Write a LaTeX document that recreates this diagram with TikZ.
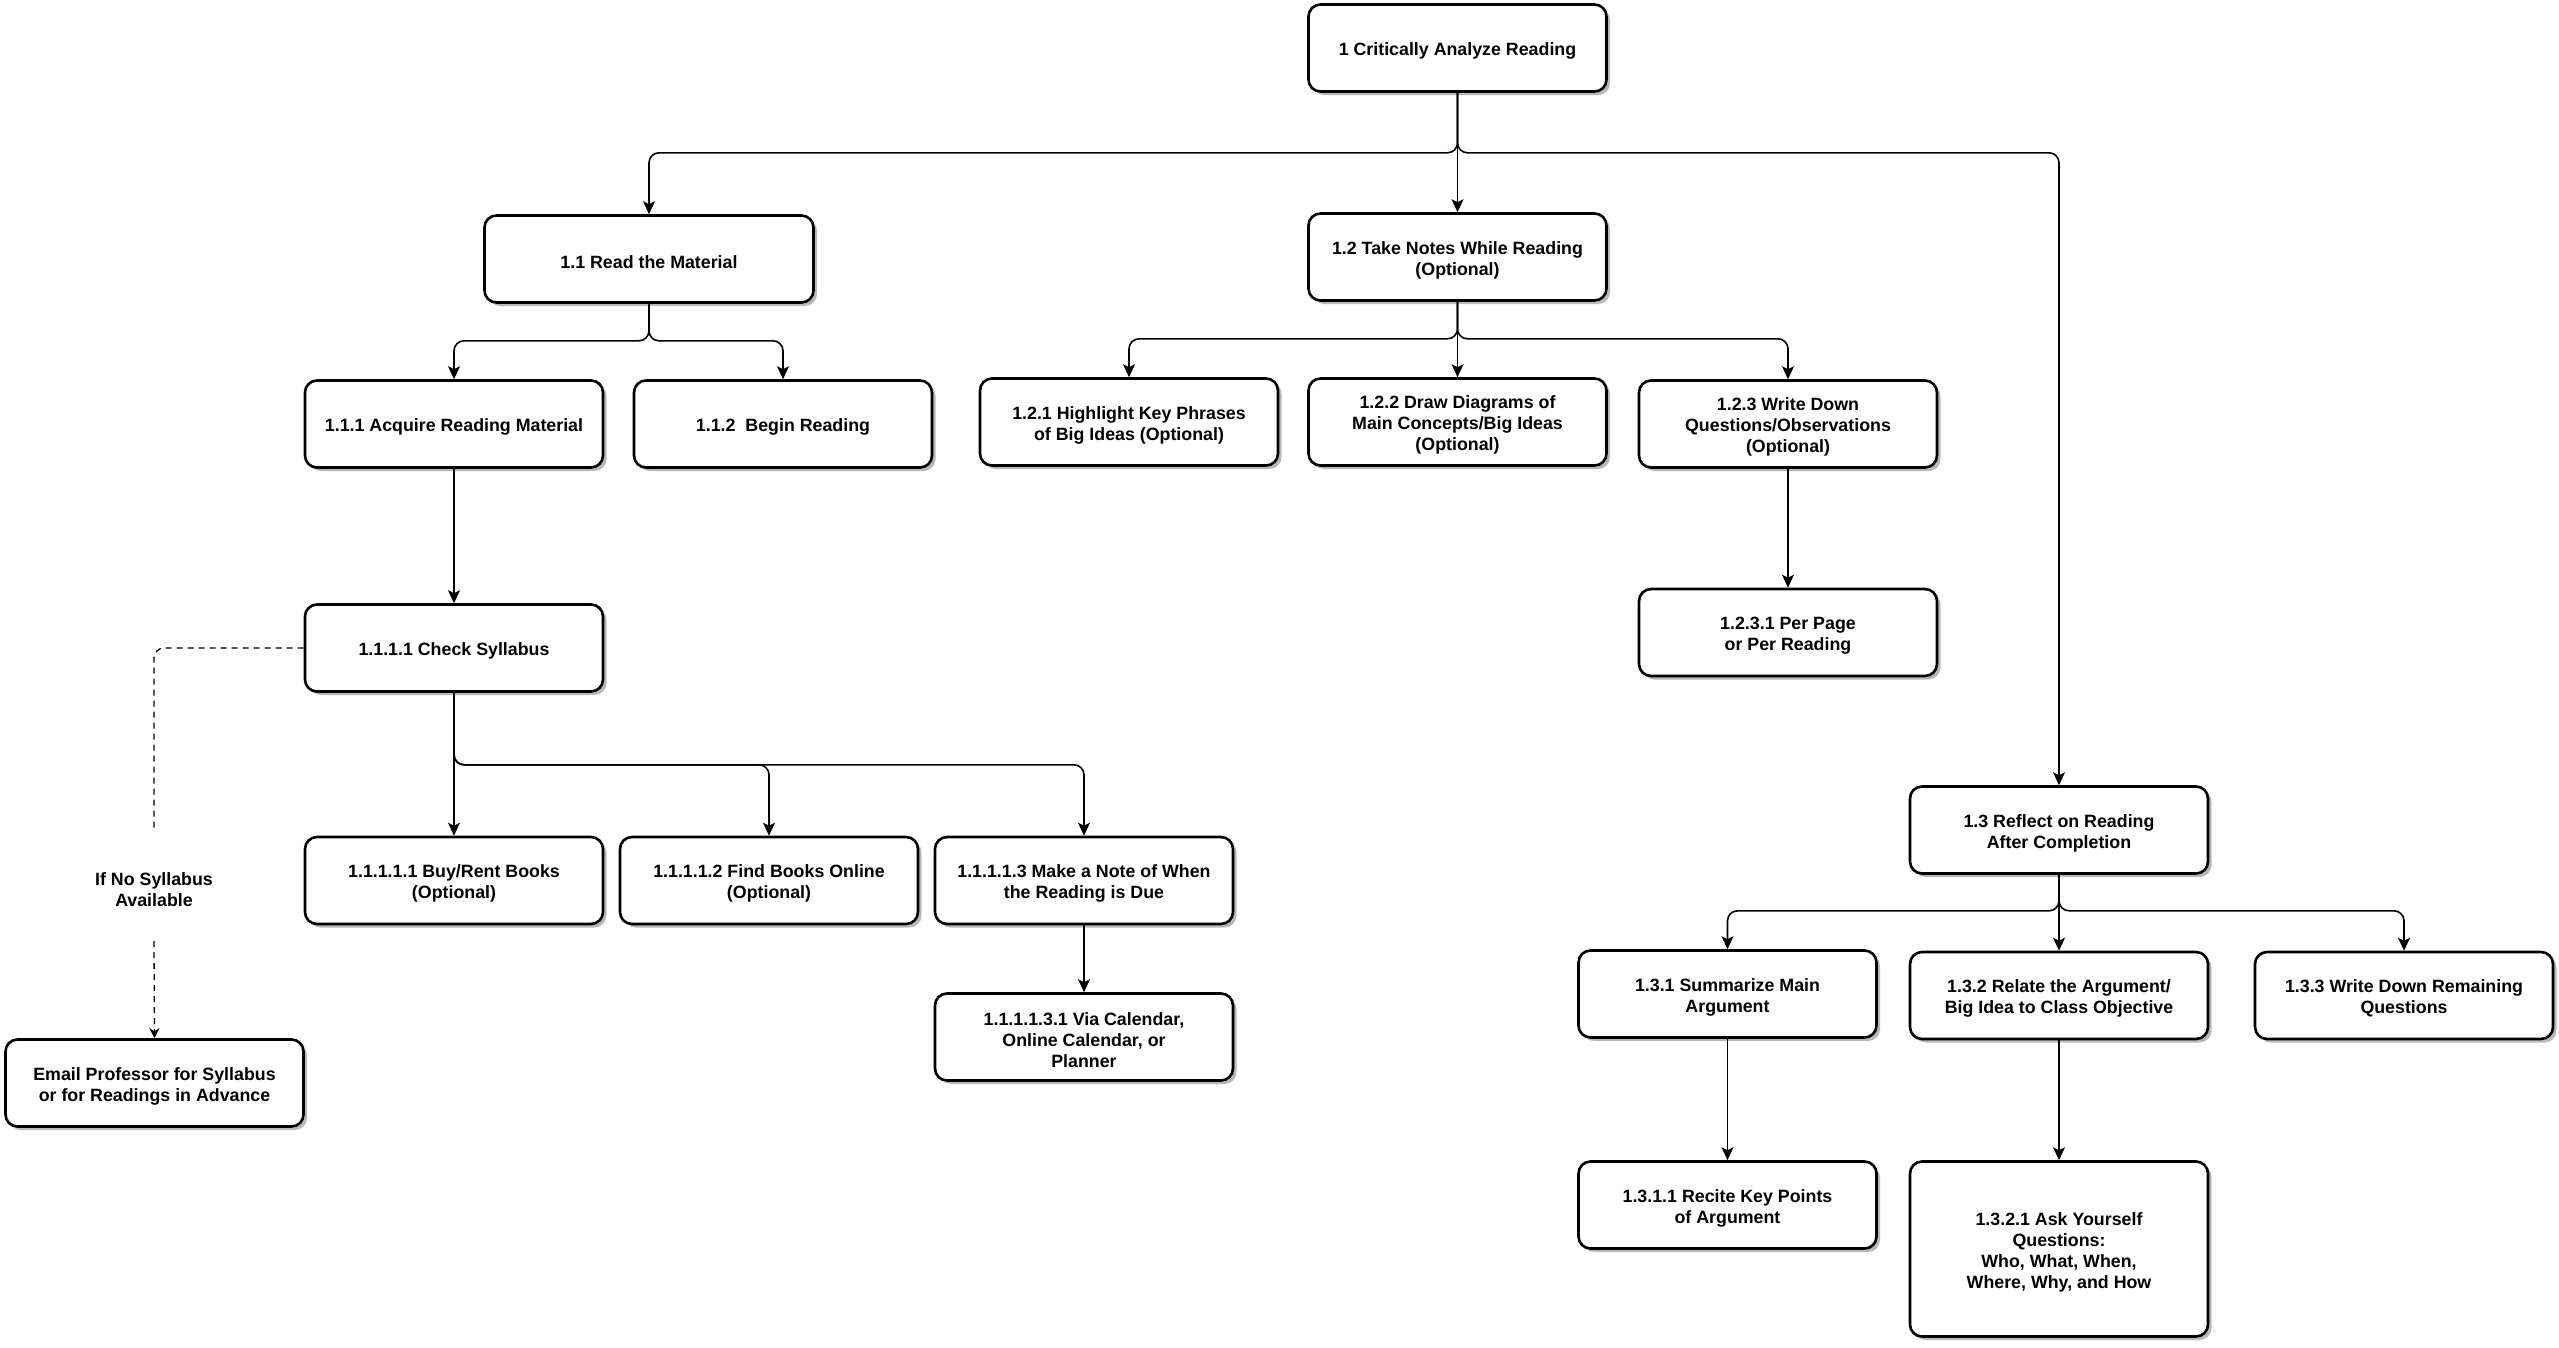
\documentclass[tikz,border=0pt]{standalone}
\usepackage{fontspec}
\setmainfont{Liberation Sans}
\usetikzlibrary{arrows.meta,shadows}
\tikzset{
  box/.style={draw, line width=2.6pt, rounded corners=12pt, fill=white,
    minimum width=298pt, minimum height=87pt, inner sep=0pt,
    drop shadow={shadow xshift=3.5pt, shadow yshift=-3.5pt, fill=black!28, opacity=1},
    label={[lbl, yshift=-3pt]center:{#1}}},
  lbl/.style={align=center, inner sep=0pt, font=\fontsize{17.8}{21}\selectfont\bfseries},
  edge/.style={line width=1.6pt, rounded corners=10pt, -{Stealth[length=13pt,width=12pt,inset=3pt]}},
  dashedge/.style={line width=1.3pt, rounded corners=10pt, dash pattern=on 6pt off 5pt},
  dashtip/.style={-{Stealth[length=10pt,width=10pt,inset=3pt]}},
}
\begin{document}
\begin{tikzpicture}[x=1pt,y=-1pt]
\useasboundingbox (0,0) rectangle (2559,1347);
% nodes
\node[box={1 Critically Analyze Reading}] (n1) at (1457.5,48) {};
\node[box={1.1 Read the Material}, minimum width=329pt] (n11) at (649,259) {};
\node[box={1.2 Take Notes While Reading\\(Optional)}] (n12) at (1457.5,257) {};
\node[box={1.1.1 Acquire Reading Material}] (n111) at (454,424) {};
\node[box={1.1.2\ \ Begin Reading}] (n112) at (783,424) {};
\node[box={1.2.1 Highlight Key Phrases\\of Big Ideas (Optional)}] (n121) at (1129,422) {};
\node[box={1.2.2 Draw Diagrams of\\Main Concepts/Big Ideas\\(Optional)}] (n122) at (1457.5,422) {};
\node[box={1.2.3 Write Down\\Questions/Observations\\(Optional)}] (n123) at (1788,424) {};
\node[box={1.2.3.1 Per Page\\or Per Reading}] (n1231) at (1788,632.5) {};
\node[box={1.1.1.1 Check Syllabus}] (n1111) at (454,648) {};
\node[box={1.1.1.1.1 Buy/Rent Books\\(Optional)}] (n11111) at (454,880.5) {};
\node[box={1.1.1.1.2 Find Books Online\\(Optional)}] (n11112) at (769,880.5) {};
\node[box={1.1.1.1.3 Make a Note of When\\the Reading is Due}] (n11113) at (1084,880.5) {};
\node[box={1.1.1.1.3.1 Via Calendar,\\Online Calendar, or\\Planner}] (n111131) at (1084,1037) {};
\node[box={Email Professor for Syllabus\\or for Readings in Advance}] (email) at (154.5,1083) {};
\node[lbl] (ifno) at (154,890) {If No Syllabus\\Available};
\node[box={1.3 Reflect on Reading\\After Completion}] (n13) at (2059,830) {};
\node[box={1.3.1 Summarize Main\\Argument}] (n131) at (1727.5,994) {};
\node[box={1.3.2 Relate the Argument/\\Big Idea to Class Objective}] (n132) at (2059,995.5) {};
\node[box={1.3.3 Write Down Remaining\\Questions}] (n133) at (2404,995.5) {};
\node[box={1.3.1.1 Recite Key Points\\of Argument}] (n1311) at (1727.5,1205) {};
\node[box={1.3.2.1 Ask Yourself\\Questions:\\Who, What, When,\\Where, Why, and How}, minimum height=175pt] (n1321) at (2059,1249) {};
\coordinate (d1) at (154,832);
\coordinate (d2) at (154,941);
% edges
\draw[edge] (n1.south) -- ++(0,60) -| (n11.north);
\draw[edge] (n1.south) -- (n12.north);
\draw[edge] (n1.south) -- ++(0,60) -| (n13.north);
\draw[edge] (n11.south) -- ++(0,37) -| (n111.north);
\draw[edge] (n11.south) -- ++(0,37) -| (n112.north);
\draw[edge] (n12.south) -- ++(0,37) -| (n121.north);
\draw[edge] (n12.south) -- (n122.north);
\draw[edge] (n12.south) -- ++(0,37) -| (n123.north);
\draw[edge] (n123.south) -- (n1231.north);
\draw[edge] (n111.south) -- (n1111.north);
\draw[edge] (n1111.south) -- (n11111.north);
\draw[edge] (n1111.south) -- ++(0,72) -| (n11112.north);
\draw[edge] (n1111.south) -- ++(0,72) -| (n11113.north);
\draw[edge] (n11113.south) -- (n111131.north);
\draw[edge] (n13.south) -- ++(0,36) -| (n131.north);
\draw[edge] (n13.south) -- (n132.north);
\draw[edge] (n13.south) -- ++(0,36) -| (n133.north);
\draw[edge] (n131.south) -- (n1311.north);
\draw[edge] (n132.south) -- (n1321.north);
\draw[dashedge] (n1111.west) -| (d1);
\draw[dashedge, dashtip] (d2) -- (email.north);
\end{tikzpicture}
\end{document}
